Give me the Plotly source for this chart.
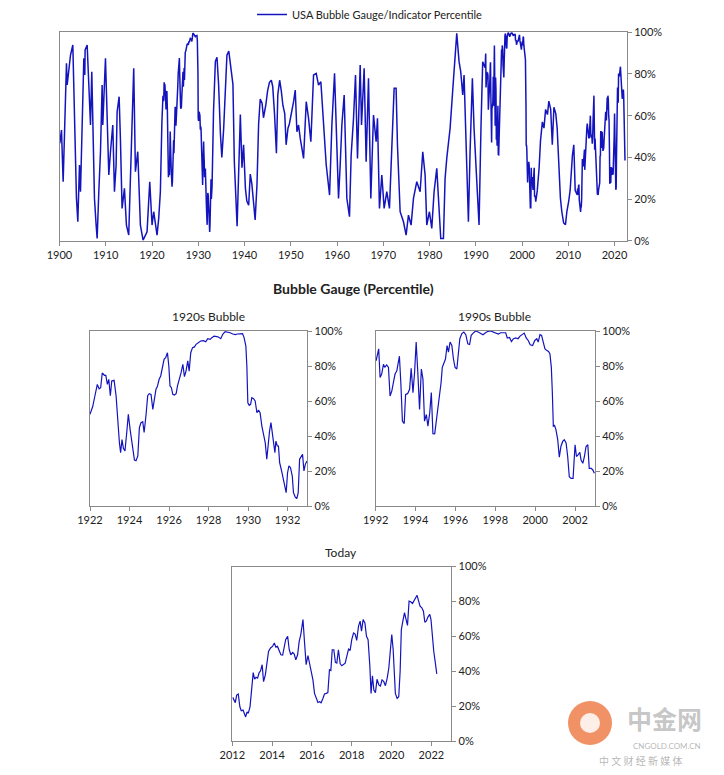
import plotly.graph_objects as go

# ---------------- data (percentile, %) ----------------
# USA Bubble Gauge percentile, 1900-1922
early_years = [1900.07, 1900.43, 1900.79, 1901.30, 1901.51, 1901.66, 1902.38, 1902.88, 1903.46, 1903.67,
               1903.96, 1904.32, 1904.54, 1905.26, 1905.47, 1905.54, 1905.98, 1906.70, 1906.98, 1907.56,
               1907.92, 1908.14, 1908.50, 1908.86, 1909.22, 1909.36, 1909.94, 1910.66, 1911.02, 1911.52,
               1911.88, 1912.24, 1912.46, 1912.89, 1913.17, 1913.53, 1914.04, 1914.47, 1914.97, 1915.55,
               1916.05, 1916.41, 1916.92, 1917.49, 1918.07, 1918.93, 1919.51, 1920.01, 1920.37, 1921.09,
               1921.45, 1921.81]
early_vals = [46.7, 53.1, 28.3, 69.9, 85.1, 74.7, 89.1, 93.9, 39.5, 20.3,
              9.1, 36.3, 23.5, 87.5, 79.5, 91.5, 93.9, 55.5, 81.1, 20.3,
              7.5, 1.1, 23.5, 42.7, 74.7, 55.5, 87.5, 31.5, 42.7, 55.5,
              23.5, 36.3, 61.9, 69.1, 49.1, 15.5, 25.1, 7.5, 2.7, 50.7,
              82.7, 33.1, 42.7, 7.5, 0.3, 4.3, 28.3, 7.5, 13.9, 2.7,
              10.7, 23.5]

# 1920s Bubble panel (1922-1933)
b20_years = [1922.00, 1922.14, 1922.25, 1922.37, 1922.46, 1922.54, 1922.62, 1922.73, 1922.80, 1922.88,
             1922.95, 1923.03, 1923.10, 1923.22, 1923.32, 1923.40, 1923.49, 1923.55, 1923.62, 1923.69,
             1923.77, 1923.86, 1923.94, 1924.03, 1924.15, 1924.25, 1924.33, 1924.42, 1924.50, 1924.58,
             1924.67, 1924.74, 1924.84, 1924.92, 1925.00, 1925.09, 1925.18, 1925.24, 1925.34, 1925.41,
             1925.50, 1925.58, 1925.66, 1925.75, 1925.83, 1925.92, 1925.99, 1926.05, 1926.12, 1926.19,
             1926.27, 1926.36, 1926.43, 1926.53, 1926.61, 1926.70, 1926.78, 1926.86, 1926.95, 1927.02,
             1927.10, 1927.19, 1927.29, 1927.37, 1927.49, 1927.60, 1927.74, 1927.86, 1927.96, 1928.08,
             1928.17, 1928.28, 1928.42, 1928.50, 1928.62, 1928.72, 1928.84, 1928.96, 1929.09, 1929.23,
             1929.35, 1929.47, 1929.60, 1929.72, 1929.80, 1929.89, 1929.94, 1929.99, 1930.06, 1930.13,
             1930.19, 1930.28, 1930.36, 1930.45, 1930.53, 1930.61, 1930.70, 1930.78, 1930.87, 1930.95,
             1931.02, 1931.09, 1931.16, 1931.22, 1931.29, 1931.36, 1931.41, 1931.48, 1931.54, 1931.60,
             1931.68, 1931.76, 1931.85, 1931.93, 1932.00, 1932.07, 1932.15, 1932.24, 1932.30, 1932.39,
             1932.47, 1932.54, 1932.61, 1932.69, 1932.76, 1932.83, 1932.90, 1932.98]
b20_vals = [52.4, 57.0, 63.0, 69.5, 67.0, 67.6, 76.0, 74.7, 74.7, 69.5,
            72.4, 63.0, 71.4, 71.8, 63.0, 47.6, 36.0, 30.5, 38.0, 33.0,
            31.4, 42.0, 52.4, 43.8, 34.3, 26.3, 25.9, 28.6, 44.8, 47.6,
            48.2, 42.0, 52.4, 63.0, 64.2, 63.8, 55.2, 60.0, 66.7, 68.2,
            72.4, 74.3, 80.0, 83.8, 84.8, 87.6, 80.0, 68.6, 67.6, 63.8,
            63.4, 64.2, 68.6, 72.4, 76.2, 81.0, 73.9, 77.1, 82.9, 77.1,
            87.6, 90.5, 90.9, 92.4, 93.3, 94.3, 94.5, 93.9, 95.6, 95.2,
            96.2, 97.1, 96.8, 96.6, 95.6, 98.1, 99.6, 99.4, 99.0, 98.3,
            97.9, 98.3, 98.5, 98.5, 96.2, 91.4, 80.0, 59.0, 57.5, 58.1,
            61.9, 61.3, 60.0, 53.3, 54.9, 53.3, 45.7, 41.9, 36.2, 26.7,
            36.2, 42.9, 47.6, 41.9, 38.1, 30.5, 37.1, 34.3, 34.3, 24.8,
            21.0, 17.1, 11.4, 7.6, 19.0, 22.9, 21.9, 17.1, 7.6, 5.1,
            4.2, 7.6, 26.7, 28.6, 29.5, 20.0, 23.8, 25.7]

# 1933-1992
mid_years = [1933.30, 1933.70, 1934.05, 1934.40, 1934.80, 1935.10, 1935.50, 1935.85, 1936.20, 1936.60,
             1936.90, 1937.30, 1937.50, 1937.80, 1938.20, 1938.40, 1938.70, 1939.10, 1939.45, 1939.80,
             1940.20, 1940.50, 1940.90, 1941.25, 1941.60, 1941.95, 1942.30, 1942.70, 1943.05, 1943.40,
             1943.80, 1944.10, 1944.60, 1945.00, 1945.40, 1945.80, 1946.10, 1946.50, 1946.90, 1947.20,
             1947.60, 1947.95, 1948.30, 1948.70, 1949.00, 1949.40, 1949.70, 1950.61, 1950.97, 1951.33,
             1951.69, 1952.05, 1952.77, 1953.35, 1953.85, 1954.35, 1954.93, 1955.51, 1956.01, 1956.51,
             1957.09, 1957.67, 1958.39, 1958.89, 1959.47, 1959.97, 1960.33, 1960.69, 1961.05, 1961.55,
             1962.13, 1962.70, 1963.06, 1963.57, 1964.00, 1964.43, 1965.01, 1965.30, 1965.87, 1966.30,
             1966.81, 1967.31, 1967.89, 1968.46, 1968.75, 1969.18, 1969.69, 1970.19, 1970.77, 1971.34,
             1971.85, 1972.35, 1972.78, 1973.07, 1973.65, 1974.37, 1974.94, 1975.45, 1976.02, 1976.53,
             1977.25, 1977.97, 1978.54, 1979.05, 1979.41, 1979.98, 1980.49, 1980.99, 1981.57, 1982.07,
             1982.43, 1983.01, 1983.37, 1983.73, 1984.45, 1984.95, 1985.53, 1985.89, 1986.39, 1986.75,
             1987.18, 1987.47, 1988.05, 1988.41, 1988.77, 1989.27, 1989.63, 1990.21, 1990.71, 1991.14,
             1991.50]
mid_vals = [62.0, 86.0, 88.0, 75.0, 51.0, 40.0, 54.0, 73.0, 89.0, 91.0,
            86.0, 78.0, 75.0, 38.0, 12.5, 7.0, 30.0, 60.5, 35.0, 46.0,
            25.0, 19.0, 17.0, 32.0, 27.0, 19.0, 10.0, 27.0, 56.0, 68.0,
            66.0, 59.0, 65.0, 72.0, 76.0, 77.0, 74.0, 60.5, 42.0, 70.0,
            77.0, 72.0, 65.0, 61.0, 46.0, 54.0, 56.0, 66.7, 72.3, 52.3,
            55.5, 49.1, 39.5, 66.7, 58.7, 47.5, 79.5, 80.3, 74.7, 76.3,
            57.1, 36.3, 21.9, 55.5, 80.3, 39.5, 20.3, 36.3, 55.5, 69.9,
            20.3, 11.5, 41.1, 58.7, 79.5, 39.5, 84.3, 55.5, 82.7, 37.9,
            77.9, 20.3, 60.3, 47.5, 58.7, 15.5, 31.5, 15.5, 23.5, 15.5,
            42.7, 73.1, 73.1, 45.9, 13.9, 9.1, 2.7, 12.3, 7.5, 20.3,
            28.3, 23.5, 42.7, 31.5, 7.5, 13.9, 5.9, 23.5, 34.7, 13.9,
            1.1, 1.1, 29.9, 39.5, 53.9, 69.9, 87.5, 99.5, 85.9, 81.1,
            69.9, 79.5, 36.3, 9.1, 42.7, 77.9, 53.9, 31.5, 7.5, 55.5,
            85.9]

# 1990s Bubble panel (1992-2003)
b90_years = [1992.02, 1992.08, 1992.15, 1992.22, 1992.30, 1992.39, 1992.45, 1992.55, 1992.64, 1992.72,
             1992.81, 1992.89, 1992.97, 1993.06, 1993.14, 1993.19, 1993.26, 1993.34, 1993.43, 1993.50,
             1993.60, 1993.70, 1993.78, 1993.87, 1993.95, 1994.03, 1994.12, 1994.20, 1994.29, 1994.37,
             1994.45, 1994.54, 1994.62, 1994.71, 1994.79, 1994.87, 1994.96, 1995.04, 1995.13, 1995.21,
             1995.28, 1995.34, 1995.43, 1995.50, 1995.58, 1995.65, 1995.73, 1995.82, 1995.90, 1995.98,
             1996.07, 1996.15, 1996.22, 1996.32, 1996.42, 1996.52, 1996.62, 1996.71, 1996.79, 1996.89,
             1997.01, 1997.14, 1997.26, 1997.38, 1997.51, 1997.63, 1997.76, 1997.90, 1998.05, 1998.15,
             1998.27, 1998.40, 1998.52, 1998.60, 1998.71, 1998.81, 1998.91, 1999.03, 1999.14, 1999.24,
             1999.36, 1999.45, 1999.55, 1999.65, 1999.75, 1999.87, 1999.98, 2000.08, 2000.15, 2000.24,
             2000.32, 2000.40, 2000.49, 2000.59, 2000.67, 2000.74, 2000.81, 2000.86, 2000.91, 2000.97,
             2001.04, 2001.13, 2001.21, 2001.29, 2001.38, 2001.46, 2001.55, 2001.63, 2001.71, 2001.80,
             2001.90, 2002.00, 2002.07, 2002.15, 2002.24, 2002.30, 2002.39, 2002.47, 2002.55, 2002.64,
             2002.71, 2002.81, 2002.89, 2002.97]
b90_vals = [83.0, 86.0, 89.8, 73.5, 75.4, 81.0, 79.2, 80.6, 79.2, 62.9,
            65.8, 70.6, 75.4, 77.3, 84.0, 85.6, 70.6, 48.5, 47.1, 63.8,
            64.2, 66.7, 78.7, 64.8, 76.3, 93.7, 74.4, 55.2, 78.3, 72.5,
            48.5, 52.3, 45.6, 53.3, 64.8, 41.3, 41.2, 48.5, 55.2, 61.9,
            70.6, 79.2, 82.1, 84.0, 91.7, 87.9, 93.7, 91.7, 84.0, 79.2,
            78.3, 86.0, 95.6, 98.5, 99.4, 97.9, 92.7, 92.3, 97.5, 98.8,
            100.0, 99.4, 98.8, 97.9, 99.0, 99.8, 100.0, 99.4, 99.0, 98.3,
            99.0, 98.8, 99.0, 96.0, 96.3, 94.0, 95.6, 96.0, 95.6, 97.1,
            97.9, 98.8, 96.0, 94.6, 92.1, 91.7, 94.6, 95.6, 93.7, 97.9,
            97.5, 93.7, 89.8, 88.8, 88.3, 86.9, 79.2, 64.8, 45.6, 46.0,
            43.7, 37.9, 27.9, 34.0, 36.9, 37.9, 36.0, 28.3, 16.7, 15.8,
            15.8, 35.0, 28.3, 29.2, 30.6, 26.3, 24.4, 28.3, 34.0, 35.0,
            21.5, 21.5, 20.6, 18.7]

# 2003-2012
late_years = [2003.30, 2003.70, 2004.00, 2004.40, 2004.75, 2005.10, 2005.50, 2005.80, 2006.20, 2006.55,
              2006.90, 2007.30, 2007.60, 2008.00, 2008.30, 2008.60, 2009.00, 2009.40, 2009.70, 2010.10,
              2010.40, 2010.90, 2011.20, 2011.50, 2011.95]
late_vals = [24.0, 35.0, 48.0, 57.0, 54.0, 63.0, 60.5, 67.0, 63.0, 46.0,
             64.0, 61.0, 54.0, 30.0, 20.5, 14.0, 8.5, 7.7, 14.0, 19.0,
             24.0, 41.0, 46.0, 24.0, 22.0]

# Today panel (2012-2022)
now_years = [2012.02, 2012.08, 2012.15, 2012.22, 2012.30, 2012.38, 2012.45, 2012.54, 2012.60, 2012.67,
             2012.74, 2012.80, 2012.89, 2012.97, 2013.05, 2013.12, 2013.19, 2013.27, 2013.35, 2013.42,
             2013.50, 2013.57, 2013.66, 2013.74, 2013.82, 2013.92, 2014.02, 2014.11, 2014.19, 2014.27,
             2014.36, 2014.44, 2014.53, 2014.59, 2014.68, 2014.78, 2014.86, 2014.94, 2015.03, 2015.11,
             2015.19, 2015.28, 2015.36, 2015.44, 2015.55, 2015.63, 2015.71, 2015.80, 2015.88, 2015.96,
             2016.05, 2016.13, 2016.21, 2016.30, 2016.38, 2016.46, 2016.55, 2016.63, 2016.72, 2016.80,
             2016.88, 2016.95, 2017.02, 2017.10, 2017.18, 2017.25, 2017.33, 2017.42, 2017.50, 2017.59,
             2017.67, 2017.75, 2017.84, 2017.92, 2018.00, 2018.09, 2018.17, 2018.25, 2018.34, 2018.42,
             2018.49, 2018.57, 2018.66, 2018.74, 2018.82, 2018.91, 2018.97, 2019.04, 2019.11, 2019.19,
             2019.27, 2019.36, 2019.44, 2019.52, 2019.61, 2019.69, 2019.78, 2019.86, 2019.93, 2020.01,
             2020.08, 2020.14, 2020.19, 2020.28, 2020.36, 2020.43, 2020.49, 2020.58, 2020.65, 2020.73,
             2020.80, 2020.88, 2020.96, 2021.05, 2021.13, 2021.21, 2021.28, 2021.36, 2021.43, 2021.52,
             2021.60, 2021.67, 2021.75, 2021.83, 2021.92, 2021.98, 2022.05, 2022.12, 2022.20, 2022.27]
now_vals = [25.0, 23.5, 22.0, 26.3, 26.9, 19.6, 17.3, 17.7, 15.4, 13.8,
            16.7, 15.8, 19.6, 29.2, 39.2, 35.4, 36.5, 36.0, 39.2, 40.2,
            43.7, 34.0, 37.9, 44.6, 51.3, 53.3, 54.2, 56.2, 53.8, 54.2,
            51.7, 49.4, 49.2, 52.7, 58.1, 60.0, 52.3, 49.4, 50.8, 49.8,
            46.5, 49.4, 57.1, 61.0, 69.6, 56.2, 43.7, 49.0, 44.6, 38.8,
            35.0, 27.3, 25.0, 22.1, 22.5, 21.9, 24.4, 26.9, 27.3, 27.7,
            40.8, 40.4, 52.3, 52.3, 45.0, 44.6, 52.3, 44.2, 43.1, 43.7,
            44.6, 48.5, 52.7, 51.9, 58.1, 61.9, 61.3, 57.7, 65.8, 68.7,
            62.9, 69.6, 67.7, 60.0, 58.1, 42.7, 27.3, 37.3, 29.2, 27.7,
            35.4, 32.1, 31.5, 35.0, 34.0, 31.7, 36.0, 41.7, 50.4, 61.0,
            52.3, 40.8, 27.3, 24.4, 25.4, 39.8, 63.8, 69.6, 73.5, 69.6,
            66.2, 80.2, 79.8, 78.8, 80.6, 82.1, 83.5, 80.2, 77.3, 76.3,
            74.4, 68.1, 68.8, 71.2, 72.5, 69.6, 58.1, 51.3, 44.6, 38.5]

y_ticks = [0, 20, 40, 60, 80, 100]
y_labels = ["0%", "20%", "40%", "60%", "80%", "100%"]

full_years = early_years + b20_years + mid_years + b90_years + late_years + now_years
full_vals = early_vals + b20_vals + mid_vals + b90_vals + late_vals + now_vals

# ---------------- figure ----------------
W, H = 724, 775
LINE = "#1414BE"
AX = "#8a8a8a"
FONT = "Lato, 'Open Sans', sans-serif"
CJK = "'Noto Sans CJK SC', sans-serif"
TXT = "#222222"


def dx(a, b):
    return [a / W, b / W]


def dy(top, bottom):
    return [1 - bottom / H, 1 - top / H]


fig = go.Figure()
fig.add_trace(go.Scatter(x=full_years, y=full_vals, mode="lines", name="USA Bubble Gauge/Indicator Percentile",
                         line=dict(color=LINE, width=1.5), xaxis="x", yaxis="y", showlegend=True))
fig.add_trace(go.Scatter(x=b20_years, y=b20_vals, mode="lines", line=dict(color=LINE, width=1.2),
                         xaxis="x2", yaxis="y2", showlegend=False))
fig.add_trace(go.Scatter(x=b90_years, y=b90_vals, mode="lines", line=dict(color=LINE, width=1.2),
                         xaxis="x3", yaxis="y3", showlegend=False))
fig.add_trace(go.Scatter(x=now_years, y=now_vals, mode="lines", line=dict(color=LINE, width=1.2),
                         xaxis="x4", yaxis="y4", showlegend=False))

common_x = dict(showline=True, linecolor=AX, linewidth=1, mirror=True, ticks="outside", ticklen=4,
                tickcolor=AX, showgrid=False, zeroline=False, automargin=False,
                tickfont=dict(size=11, color=TXT, family=FONT))
common_y = dict(showline=True, linecolor=AX, linewidth=1, mirror=True, ticks="outside", ticklen=4,
                tickcolor=AX, showgrid=False, zeroline=False, side="right", range=[0, 100], automargin=False,
                tickmode="array", tickvals=y_ticks, ticktext=y_labels,
                tickfont=dict(size=11, color=TXT, family=FONT))

panels = [
    ("", [1900, 2022.7], 10, 1900, dx(59.5, 627), dy(32.3, 240.7)),
    ("2", [1922, 1933], 2, 1922, dx(90, 307.3), dy(331, 506)),
    ("3", [1992, 2003], 2, 1992, dx(375.7, 595), dy(331, 506)),
    ("4", [2012, 2023], 2, 2012, dx(232.3, 451.3), dy(566.5, 741)),
]
layout_axes = {}
for suf, rng, dt, t0, xd, yd in panels:
    xa = dict(common_x, range=rng, dtick=dt, tick0=t0, domain=xd, anchor="y" + suf)
    ya = dict(common_y, domain=yd, anchor="x" + suf)
    layout_axes["xaxis" + suf] = xa
    layout_axes["yaxis" + suf] = ya


def ann(text, x, y, size, family=FONT, color=TXT, xanchor="center"):
    return dict(text=text, x=x / W, y=1 - y / H, xref="paper", yref="paper", xanchor=xanchor,
                yanchor="middle", showarrow=False, font=dict(size=size, color=color, family=family))


annotations = [
    ann("<b>Bubble Gauge (Percentile)</b>", 353, 288, 14),
    ann("1920s Bubble", 208, 316, 12),
    ann("1990s Bubble", 494, 316, 12),
    ann("Today", 341, 552, 12),
    # watermark
    ann("<b>中金网</b>", 664, 718, 25, family=CJK, color="rgba(150,150,150,0.55)"),
    ann("CNGOLD.COM.CN", 667, 746, 8, color="rgba(150,150,150,0.7)"),
    ann("中 文 财 经 新 媒 体", 640, 760, 10, family=CJK, color="rgba(150,150,150,0.7)"),
]

shapes = [
    dict(type="circle", xref="paper", yref="paper", x0=568 / W, x1=612 / W, y0=1 - 745 / H, y1=1 - 701 / H,
         fillcolor="rgba(235,110,50,0.75)", line=dict(width=0), layer="below"),
    dict(type="circle", xref="paper", yref="paper", x0=580 / W, x1=600 / W, y0=1 - 733 / H, y1=1 - 713 / H,
         fillcolor="rgba(255,255,255,0.85)", line=dict(width=0), layer="below"),
]

fig.update_layout(
    template="none",
    width=W, height=H, margin=dict(l=0, r=0, t=0, b=0, autoexpand=False),
    paper_bgcolor="white", plot_bgcolor="white",
    font=dict(family=FONT, size=11, color=TXT),
    showlegend=True,
    legend=dict(x=252 / W, y=1, xanchor="left", yanchor="top", orientation="h",
                font=dict(size=11, color=TXT, family=FONT), bgcolor="rgba(0,0,0,0)"),
    annotations=annotations,
    shapes=shapes,
    **layout_axes,
)

fig.write_html("out.html")
